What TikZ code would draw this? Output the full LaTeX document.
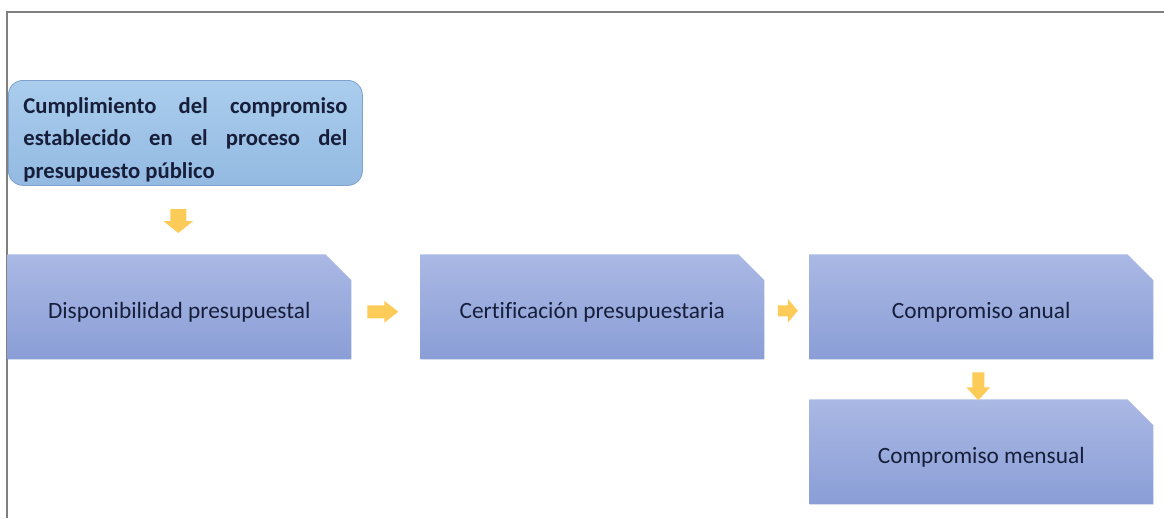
\documentclass[tikz,border=0pt]{standalone}
\usepackage{fontspec}
\setmainfont{Carlito}[Ligatures=NoCommon]
\usetikzlibrary{shapes.misc,calc}
\definecolor{boxtop}{RGB}{170,184,228}
\definecolor{boxbot}{RGB}{138,158,214}
\definecolor{toptop}{RGB}{170,205,237}
\definecolor{topbot}{RGB}{148,186,226}
\definecolor{topedge}{RGB}{125,162,205}
\definecolor{txt}{RGB}{22,30,58}
\definecolor{arrfill}{RGB}{253,203,88}
\definecolor{framegray}{RGB}{128,128,128}
\tikzset{
  px/.style={x=0.75pt,y=-0.75pt},
  stepbox/.style={chamfered rectangle, chamfered rectangle corners=north east,
    chamfered rectangle xsep=12pt, chamfered rectangle ysep=12pt,
    top color=boxtop, bottom color=boxbot, draw=none,
    minimum width=258pt, minimum height=78.75pt, inner sep=0pt,
    font=\fontsize{17.5}{20}\selectfont, text=txt},
  topbox/.style={rectangle, rounded corners=11pt, top color=toptop, bottom color=topbot,
    draw=topedge, line width=0.6pt, minimum width=265.5pt, minimum height=78.75pt,
    text width=243pt, align=justify, inner sep=0pt,
    font=\fontsize{17}{24.5}\selectfont\bfseries, text=txt},
  arrowfill/.style={fill=arrfill},
  framestyle/.style={draw=framegray, line width=1.4pt}
}
\newcommand\blockarr[6]{%
  \fill[arrowfill,shift={(#1)},rotate=#2] (-#3/2,-#4/2) -- (#3/2-#6,-#4/2) -- (#3/2-#6,-#5/2) -- (#3/2,0) -- (#3/2-#6,#5/2) -- (#3/2-#6,#4/2) -- (-#3/2,#4/2) -- cycle;}
\newcommand\lowtxt[1]{\raisebox{-4.5pt}[\height][\depth]{#1}}
\begin{document}
\begin{tikzpicture}[px]
\useasboundingbox (0,0) rectangle (1164,518);
\draw[framestyle] (7,518) -- (7,12) -- (1164,12);
\node[topbox, anchor=north west] (top) at (8,80) {\hyphenpenalty=10000\rule{0pt}{22pt}Cumplimiento del compromiso\linebreak establecido en el proceso del\linebreak presupuesto público};
\node[stepbox, anchor=north west] (b1) at (7,254) {\lowtxt{Disponibilidad presupuestal}};
\node[stepbox, anchor=north west] (b2) at (420,254) {\lowtxt{Certificación presupuestaria}};
\node[stepbox, anchor=north west] (b3) at (809,254) {\lowtxt{Compromiso anual}};
\node[stepbox, anchor=north west] (b4) at (809,399) {\lowtxt{Compromiso mensual}};
\coordinate (m1) at ($(b1.north)+(-1,-33)$);
\coordinate (m2) at ($(b1.east)!0.5!(b2.west)+(-3,5)$);
\coordinate (m3) at ($(b2.east)!0.5!(b3.west)+(1,4)$);
\coordinate (m4) at ($(b3.south)!0.5!(b4.north)+(-3,7)$);
\blockarr{m1}{-90}{24}{16}{30}{12}
\blockarr{m2}{0}{31}{13}{22}{14}
\blockarr{m3}{0}{20}{11}{24}{10}
\blockarr{m4}{-90}{28}{12}{24}{13}
\end{tikzpicture}
\end{document}
